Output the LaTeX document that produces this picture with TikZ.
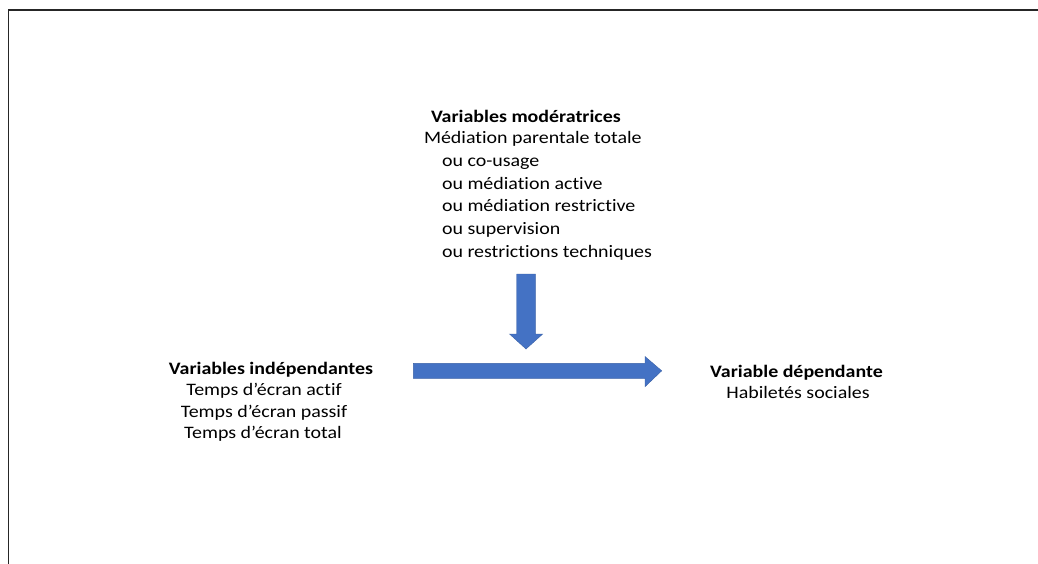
\documentclass[tikz,border=0pt]{standalone}
\usepackage{fontspec}
\setmainfont{Carlito}[FakeStretch=1.14,Ligatures=NoCommon]
\begin{document}
\begin{tikzpicture}[x=1pt,y=-1pt,
  txt/.style={inner sep=0pt,outer sep=0pt,font=\fontsize{17.5}{21}\selectfont},
  ttl/.style={txt,font=\fontsize{17.5}{21}\selectfont\bfseries},
  blockarrow/.style={fill=arrowblue,draw=arrowblue!85!black,line width=0.4pt}]
\definecolor{arrowblue}{HTML}{4472C4}
\useasboundingbox (0,0) rectangle (1038,564);
\fill[white] (0,0) rectangle (1038,564);
\draw[line width=1.2pt,black!85] (8.3,564) -- (8.3,10) -- (1038,10);
% moderator block
\node[ttl,anchor=base west] (modt) at (431,123) {Variables modératrices};
\node[txt,anchor=base west] (mod1) at (424,143.5) {Médiation parentale totale};
\node[txt,anchor=base west] (mod2) at (442,166.3) {ou co-usage};
\node[txt,anchor=base west] (mod3) at (442,189.1) {ou médiation active};
\node[txt,anchor=base west] (mod4) at (442,211.9) {ou médiation restrictive};
\node[txt,anchor=base west] (mod5) at (442,234.7) {ou supervision};
\node[txt,anchor=base west] (mod6) at (442,257.5) {ou restrictions techniques};
% independent block
\node[ttl,anchor=base] (indt) at (271,374) {Variables indépendantes};
\node[txt,anchor=base] (ind1) at (264,395.5) {Temps d’écran actif};
\node[txt,anchor=base] (ind2) at (264,417) {Temps d’écran passif};
\node[txt,anchor=base] (ind3) at (263,438.5) {Temps d’écran total};
% dependent block
\node[ttl,anchor=base] (dept) at (796.5,377) {Variable dépendante};
\node[txt,anchor=base] (dep1) at (798,398) {Habiletés sociales};
% arrows
\coordinate (vtop) at (526,274);
\coordinate (vtip) at (526,349);
\coordinate (hstart) at (413.3,370.8);
\coordinate (htip) at (661.7,370.8);
\path[blockarrow] (516.7,274) -- (535.3,274) -- (535.3,334) -- (542.7,334)
  -- (vtip) -- (509.5,334) -- (516.7,334) -- cycle;
\path[blockarrow] (413.3,363.3) -- (645,363.3) -- (645,356.5) -- (htip)
  -- (645,386.7) -- (645,378.3) -- (413.3,378.3) -- cycle;
\end{tikzpicture}
\end{document}
